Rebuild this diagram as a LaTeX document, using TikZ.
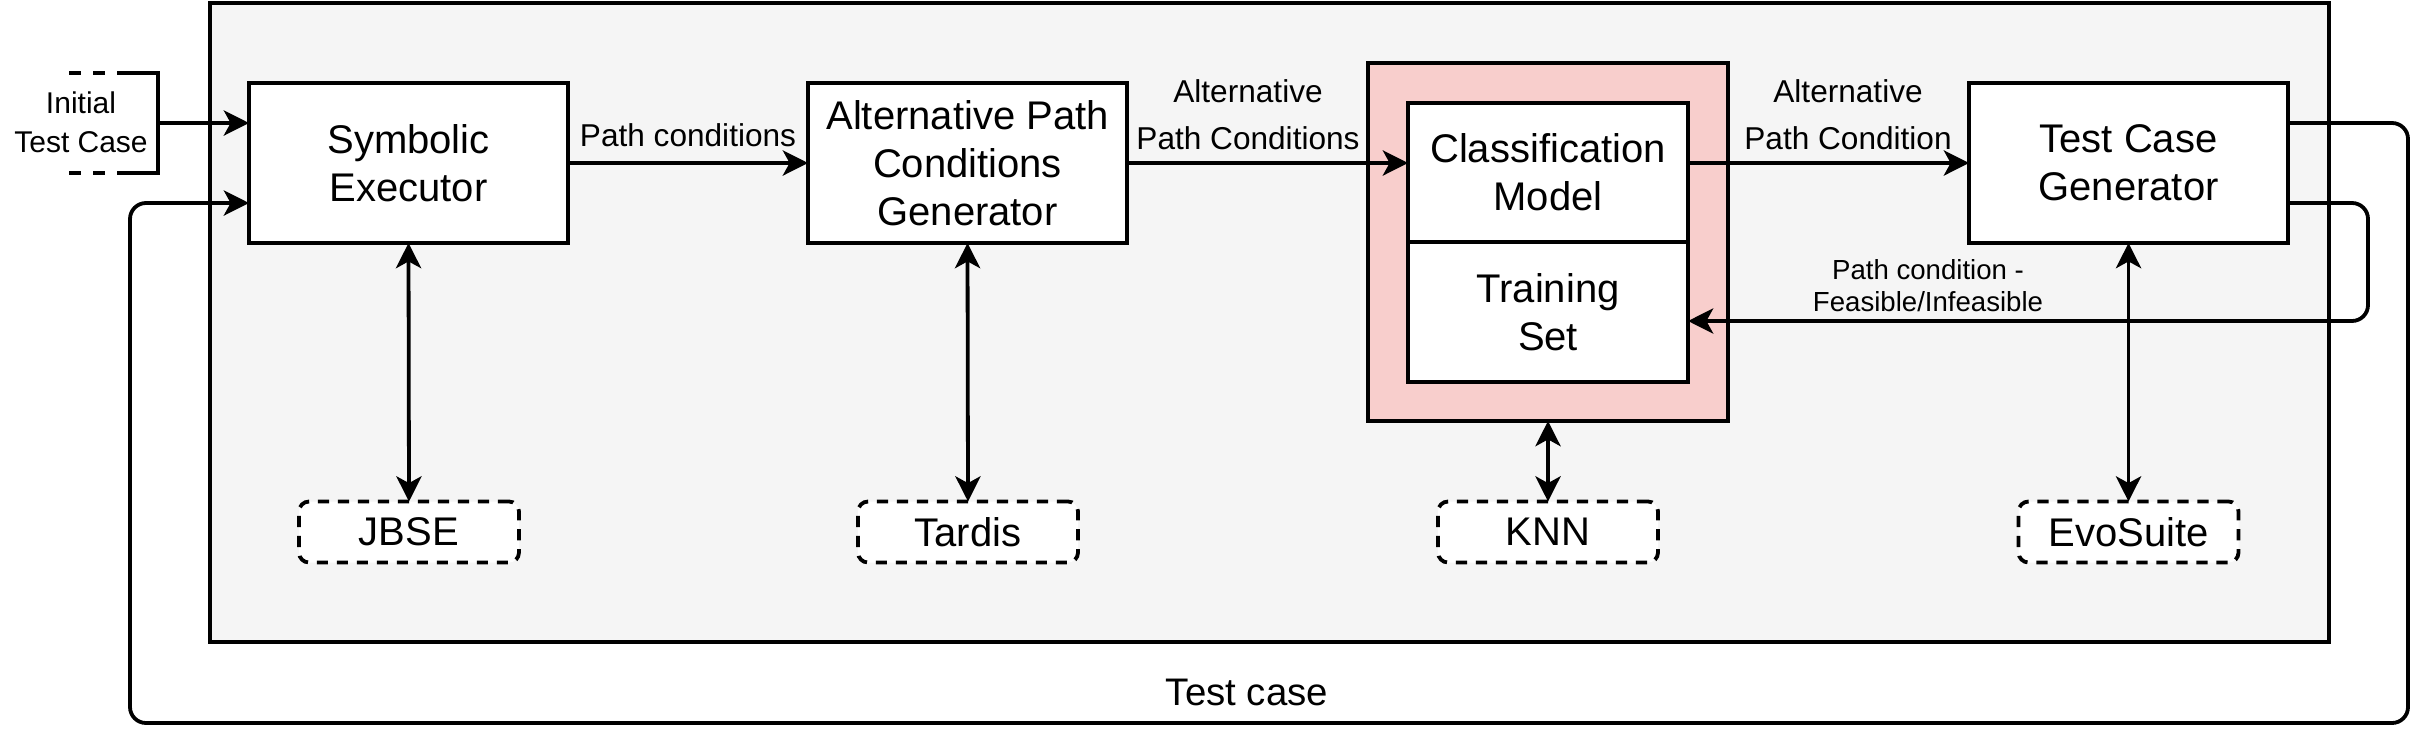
\documentclass[tikz,border=0pt]{standalone}
\usepackage{fontspec}
\setmainfont{Liberation Sans}
\usetikzlibrary{arrows.meta}
\definecolor{framegray}{HTML}{F5F5F5}
\definecolor{pinkfill}{HTML}{F8CECC}
\begin{document}
\begin{tikzpicture}[x=0.25pt,y=-0.25pt,
  every node/.style={inner sep=0pt, outer sep=0pt},
  thick line/.style={line width=0.95pt},
  frame/.style={draw, thick line, fill=framegray, minimum width=529.75pt, minimum height=159.75pt},
  pinkbox/.style={draw, thick line, fill=pinkfill, minimum width=90pt, minimum height=89.5pt},
  box/.style={draw, thick line, fill=white, minimum width=79.75pt, minimum height=40pt, align=center, font=\fontsize{10}{12}\selectfont},
  tool/.style={draw, thick line, fill=white, dash pattern=on 2.8pt off 2.2pt, rounded corners=2.5pt, minimum width=55pt, minimum height=15.25pt, font=\fontsize{10}{12}\selectfont},
  lbl/.style={align=center, font=\fontsize{7.9}{11.75}\selectfont},
  smalllbl/.style={align=center, font=\fontsize{6.9}{8}\selectfont},
  initlbl/.style={align=center, font=\fontsize{7.5}{9.75}\selectfont},
  arr/.style={thick line, -{Stealth[length=6.3pt, width=6.3pt, inset=1.7pt]}},
  darr/.style={thick line, {Stealth[length=6.3pt, width=6.3pt, inset=1.7pt]}-{Stealth[length=6.3pt, width=6.3pt, inset=1.7pt]}}
]
\useasboundingbox (0,0) rectangle (2428,740);

% container
\node[frame] (frame) at (1269.5,322.5) {};
\node[pinkbox] (pink) at (1548,242) {};

% main boxes
\node[box] (symb) at (408.5,163) {Symbolic\\Executor};
\node[box] (apcg) at (967.5,163) {Alternative Path\\Conditions\\Generator};
\node[box] (tcg) at (2128.5,163) {Test Case\\Generator};
\node[box, minimum width=70pt, minimum height=34.75pt] (cm) at (1548,172.5) {Classification\\Model};
\node[box, minimum width=70pt, minimum height=35pt] (ts) at (1548,312) {Training\\Set};

% tools
\node[tool] (jbse) at (409,532) {JBSE};
\node[tool] (tardis) at (968,532) {Tardis};
\node[tool] (knn) at (1548,532) {KNN};
\node[tool] (evo) at (2128.5,532) {EvoSuite};

% initial test case
\node[initlbl] (init) at (81,122) {Initial\\Test Case};
\draw[thick line, dash pattern=on 3pt off 3pt] (69,73) -- (117,73);
\draw[thick line] (117,73) -| (158,173) -- (117,173);
\draw[thick line, dash pattern=on 3pt off 3pt] (69,173) -- (117,173);
\coordinate (initR) at (158,123);
\draw[arr] (initR) -- (initR -| symb.west);

% forward flow
\draw[arr] (symb.east) -- (apcg.west);
\node[lbl] (lpc) at (688,135) {Path conditions};
\draw[arr] (apcg.east) -- (apcg.east -| cm.west);
\node[lbl] (lapc) at (1248,115) {Alternative\\Path Conditions};
\draw[arr] (cm.east |- tcg.west) -- (tcg.west);
\node[lbl] (lapc2) at (1848,115) {Alternative\\Path Condition};

% tool links
\draw[darr] (symb.south) -- (jbse.north);
\draw[darr] (apcg.south) -- (tardis.north);
\draw[darr] (pink.south) -- (knn.north);
\draw[darr] (tcg.south) -- (evo.north);

% feasibility feedback
\coordinate (f1) at (2368,203);
\coordinate (f2) at (2368,321);
\draw[arr, rounded corners=4pt] (tcg.east |- f1) -- (f1) -- (f2) -- (f2 -| ts.east);
\node[smalllbl] (lfeas) at (1928,286) {Path condition -\\Feasible/Infeasible};

% test case loop
\coordinate (c1) at (2408,123);
\coordinate (c2) at (2408,723);
\coordinate (c3) at (130,723);
\coordinate (c4) at (130,203);
\draw[arr, rounded corners=4pt] (tcg.east |- c1) -- (c1) -- (c2) -- (c3) -- (c4) -- (c4 -| symb.west);
\node[font=\fontsize{9.6}{11.5}\selectfont] (ltc) at (1247,692) {Test case};
\end{tikzpicture}
\end{document}
